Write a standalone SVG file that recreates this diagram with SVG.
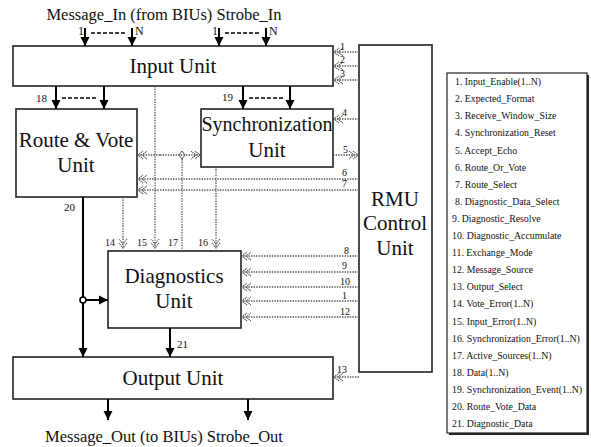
<svg xmlns="http://www.w3.org/2000/svg" width="591" height="447" viewBox="0 0 591 447">
<style>
text{fill:#111}
.serif{font-family:'Liberation Serif','Times New Roman',serif}
.box{fill:#fff;stroke:#222;stroke-width:1.6}
.big{font-size:21px;text-anchor:middle}
.lbl{font-size:11px}
.sm{font-size:10px}
.solid{stroke:#000;stroke-width:2;fill:none}
.dash{stroke:#000;stroke-width:1.6;stroke-dasharray:4 2;fill:none}
.dot{stroke:#555;stroke-width:1.3;stroke-dasharray:1.4 1.2;fill:none}
.leg{font-size:9.8px}
</style>
<defs>
<marker id="ah" markerUnits="userSpaceOnUse" markerWidth="10" markerHeight="10" refX="9" refY="5" orient="auto">
<path d="M0,0.5 L9,5 L0,9.5 z" fill="#000"/>
</marker>
<marker id="dh" markerUnits="userSpaceOnUse" markerWidth="11" markerHeight="10" refX="9" refY="4.5" orient="auto">
<path d="M0,0.5 L5,4.5 L0,8.5 M4,0.5 L9,4.5 L4,8.5" fill="none" stroke="#555" stroke-width="1.2" stroke-dasharray="1.2 0.8"/>
</marker>
</defs>
<rect width="591" height="447" fill="#fff"/>
<g class="serif" font-family="Liberation Serif">
<text x="164" y="20" style="font-size:16.5px;text-anchor:middle">Message_In (from BIUs) Strobe_In</text>
<text x="164" y="442" style="font-size:16.5px;text-anchor:middle">Message_Out (to BIUs) Strobe_Out</text>

<g id="input-unit">
<rect class="box" x="13" y="46" width="320" height="40"/>
<text class="big serif" x="173" y="73">Input Unit</text>
</g>
<g id="route-vote-unit">
<rect class="box" x="16" y="109" width="121" height="88"/>
<text class="big serif" x="76" y="147">Route &amp; Vote</text>
<text class="big serif" x="76" y="172">Unit</text>
</g>
<g id="synchronization-unit">
<rect class="box" x="201" y="109" width="132" height="58"/>
<text class="big serif" x="267" y="131" style="font-size:20px">Synchronization</text>
<text class="big serif" x="267" y="157">Unit</text>
</g>
<g id="diagnostics-unit">
<rect class="box" x="108" y="251" width="133" height="77"/>
<text class="big serif" x="174" y="283">Diagnostics</text>
<text class="big serif" x="174" y="308">Unit</text>
</g>
<g id="output-unit">
<rect class="box" x="13" y="357" width="320" height="42"/>
<text class="big serif" x="173" y="385">Output Unit</text>
</g>
<g id="rmu-control-unit">
<rect class="box" x="359" y="45" width="73" height="327"/>
<text class="big serif" x="395" y="206">RMU</text>
<text class="big serif" x="395" y="230">Control</text>
<text class="big serif" x="395" y="255">Unit</text>
</g>

<g id="connectors">
<line class="solid" x1="85" y1="28" x2="85" y2="46" marker-end="url(#ah)"/>
<line class="solid" x1="132" y1="28" x2="132" y2="46" marker-end="url(#ah)"/>
<line class="dash" x1="91" y1="33" x2="127" y2="33"/>
<line class="solid" x1="219" y1="28" x2="219" y2="46" marker-end="url(#ah)"/>
<line class="solid" x1="266" y1="28" x2="266" y2="46" marker-end="url(#ah)"/>
<line class="dash" x1="225" y1="33" x2="261" y2="33"/>
<text class="serif" x="78" y="35" style="font-size:12px">1</text>
<text class="serif" x="135" y="35" style="font-size:12px">N</text>
<text class="serif" x="212" y="35" style="font-size:12px">1</text>
<text class="serif" x="269" y="35" style="font-size:12px">N</text>
<line class="solid" x1="56" y1="86" x2="56" y2="109" marker-end="url(#ah)"/>
<line class="solid" x1="104" y1="86" x2="104" y2="109" marker-end="url(#ah)"/>
<line class="dash" x1="62" y1="98" x2="98" y2="98"/>
<text class="lbl serif" x="36" y="102">18</text>
<line class="solid" x1="243" y1="86" x2="243" y2="109" marker-end="url(#ah)"/>
<line class="solid" x1="290" y1="86" x2="290" y2="109" marker-end="url(#ah)"/>
<line class="dash" x1="249" y1="98" x2="284" y2="98"/>
<text class="lbl serif" x="222" y="101">19</text>
<line class="dot" x1="359" y1="52" x2="334" y2="52" marker-end="url(#dh)"/>
<line class="dot" x1="359" y1="66" x2="334" y2="66" marker-end="url(#dh)"/>
<line class="dot" x1="359" y1="80" x2="334" y2="80" marker-end="url(#dh)"/>
<text class="sm serif" x="340" y="50">1</text>
<text class="sm serif" x="340" y="63">2</text>
<text class="sm serif" x="340" y="77">3</text>
<line class="dot" x1="359" y1="119" x2="334" y2="119" marker-end="url(#dh)"/>
<text class="sm serif" x="342" y="116">4</text>
<line class="dot" x1="333" y1="155" x2="358" y2="155" marker-end="url(#dh)"/>
<text class="sm serif" x="343" y="153">5</text>
<line class="dot" x1="359" y1="179" x2="138" y2="179" marker-end="url(#dh)"/>
<line class="dot" x1="359" y1="190" x2="138" y2="190" marker-end="url(#dh)"/>
<text class="sm serif" x="342" y="176">6</text>
<text class="sm serif" x="342" y="187">7</text>
<line class="dot" x1="160" y1="155" x2="138" y2="155" marker-end="url(#dh)"/>
<line class="dot" x1="160" y1="155" x2="200" y2="155" marker-end="url(#dh)"/>
<path d="M182,151 L185,155 L182,159 L179,155 z" fill="none" stroke="#555" stroke-width="1"/>
<line class="dot" x1="123" y1="197" x2="123" y2="248" marker-end="url(#dh)"/>
<line class="dot" x1="155" y1="86" x2="155" y2="248" marker-end="url(#dh)"/>
<line class="dot" x1="216" y1="167" x2="216" y2="248" marker-end="url(#dh)"/>
<line class="dot" x1="182" y1="159" x2="182" y2="251"/>
<text class="sm serif" x="105" y="246">14</text>
<text class="sm serif" x="137" y="246">15</text>
<text class="sm serif" x="168" y="246">17</text>
<text class="sm serif" x="198" y="246">16</text>
<line class="dot" x1="359" y1="256" x2="242" y2="256" marker-end="url(#dh)"/>
<line class="dot" x1="359" y1="272" x2="242" y2="272" marker-end="url(#dh)"/>
<line class="dot" x1="359" y1="287" x2="242" y2="287" marker-end="url(#dh)"/>
<line class="dot" x1="359" y1="301" x2="242" y2="301" marker-end="url(#dh)"/>
<line class="dot" x1="359" y1="317" x2="242" y2="317" marker-end="url(#dh)"/>
<text class="sm serif" x="344" y="254">8</text>
<text class="sm serif" x="342" y="269">9</text>
<text class="sm serif" x="340" y="285">10</text>
<text class="sm serif" x="342" y="299">1</text>
<text class="sm serif" x="340" y="315">12</text>
<line class="dot" x1="359" y1="377" x2="334" y2="377" marker-end="url(#dh)"/>
<text class="sm serif" x="337" y="373">13</text>
<line class="solid" x1="83" y1="197" x2="83" y2="357" marker-end="url(#ah)"/>
<text class="lbl serif" x="64" y="211">20</text>
<line class="solid" x1="86" y1="300" x2="108" y2="300" marker-end="url(#ah)"/>
<circle cx="83" cy="300" r="3" fill="#fff" stroke="#000" stroke-width="1.6"/>
<line class="solid" x1="170" y1="328" x2="170" y2="357" marker-end="url(#ah)"/>
<text class="lbl serif" x="177" y="348">21</text>
<line class="solid" x1="108" y1="399" x2="108" y2="420" marker-end="url(#ah)"/>
<line class="solid" x1="248" y1="399" x2="248" y2="420" marker-end="url(#ah)"/>
</g>

<g id="legend">
<rect x="447" y="73" width="140" height="360" fill="#fff" stroke="#222" stroke-width="1.2"/>
<line x1="588" y1="75" x2="588" y2="435" stroke="#222" stroke-width="2"/>
<line x1="449" y1="434" x2="589" y2="434" stroke="#222" stroke-width="2"/>
<g xml:space="preserve">
<text class="leg serif" x="455" y="85">1.  Input_Enable(1..N)</text>
<text class="leg serif" x="455" y="102">2.  Expected_Format</text>
<text class="leg serif" x="455" y="119">3. Receive_Window_Size</text>
<text class="leg serif" x="455" y="136">4.  Synchronization_Reset</text>
<text class="leg serif" x="455" y="154">5.  Accept_Echo</text>
<text class="leg serif" x="455" y="171">6.  Route_Or_Vote</text>
<text class="leg serif" x="455" y="188">7.  Route_Select</text>
<text class="leg serif" x="455" y="205">8.  Diagnostic_Data_Select</text>
<text class="leg serif" x="452" y="222">9. Diagnostic_Resolve</text>
<text class="leg serif" x="452" y="239">10.  Diagnostic_Accumulate</text>
<text class="leg serif" x="452" y="256">11.  Exchange_Mode</text>
<text class="leg serif" x="452" y="273">12.  Message_Source</text>
<text class="leg serif" x="452" y="290">13.  Output_Select</text>
<text class="leg serif" x="452" y="307">14.  Vote_Error(1..N)</text>
<text class="leg serif" x="452" y="325">15.  Input_Error(1..N)</text>
<text class="leg serif" x="452" y="342">16. Synchronization_Error(1..N)</text>
<text class="leg serif" x="452" y="359">17. Active_Sources(1..N)</text>
<text class="leg serif" x="452" y="376">18. Data(1..N)</text>
<text class="leg serif" x="452" y="393">19.  Synchronization_Event(1..N)</text>
<text class="leg serif" x="452" y="410">20.  Route_Vote_Data</text>
<text class="leg serif" x="452" y="427">21.  Diagnostic_Data</text>
</g>
</g>
</g>
</svg>
